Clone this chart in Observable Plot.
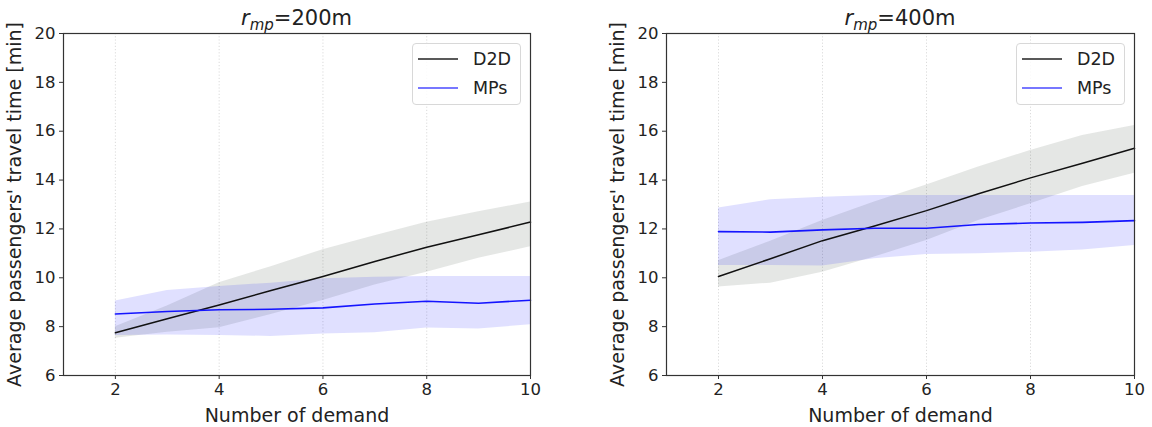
<!DOCTYPE html>
<html><head><meta charset="utf-8">
<script src="https://cdn.jsdelivr.net/npm/d3@7"></script>
<script src="https://cdn.jsdelivr.net/npm/@observablehq/plot@0.6"></script>
<style>
body{margin:0;background:#fff;font-family:"DejaVu Sans",sans-serif;}
#wrap{position:relative;width:1152px;height:427px;overflow:hidden;background:#fff;}
.panel{position:absolute;top:0;width:576px;height:427px;}
.title{position:absolute;top:5px;height:26px;width:300px;text-align:center;font-size:21px;line-height:26px;color:#222;white-space:nowrap;}
.title sub{font-size:15px;}
.legend{position:absolute;top:43px;width:109px;height:62px;border:1px solid #d8d8d8;border-radius:4px;background:rgba(255,255,255,0.85);font-size:17.5px;color:#222;box-sizing:border-box;}
.legend .row{position:absolute;left:4px;height:22px;}
.legend svg{position:absolute;left:0;top:0;}
.legend span{position:absolute;left:56px;top:0;line-height:22px;}
</style>
</head><body>
<div id="wrap"></div>
<script>
// ---- data ----
const demand = [2, 3, 4, 5, 6, 7, 8, 9, 10];
const xTicks = [2, 4, 6, 8, 10];
const yTicks = [6, 8, 10, 12, 14, 16, 18, 20];
const seriesNames = ["D2D", "MPs"];
const panelTitles = ["200m", "400m"];

// r_mp = 200m
const d2d200   = [7.75, 8.32, 8.89, 9.48, 10.05, 10.67, 11.25, 11.76, 12.28];
const d2d200Lo = [7.52, 7.77, 7.95, 8.50, 9.07, 9.70, 10.23, 10.80, 11.27];
const d2d200Hi = [8.00, 8.85, 9.80, 10.45, 11.15, 11.72, 12.27, 12.70, 13.10];
const mp200    = [8.52, 8.62, 8.69, 8.71, 8.77, 8.93, 9.04, 8.96, 9.08];
const mp200Lo  = [7.64, 7.66, 7.64, 7.60, 7.70, 7.75, 7.94, 7.90, 8.08];
const mp200Hi  = [9.05, 9.48, 9.64, 9.78, 9.96, 10.02, 10.05, 10.05, 10.05];

// r_mp = 400m
const d2d400   = [10.05, 10.78, 11.52, 12.12, 12.75, 13.44, 14.09, 14.69, 15.30];
const d2d400Lo = [9.62, 9.78, 10.23, 10.85, 11.53, 12.34, 13.03, 13.74, 14.28];
const d2d400Hi = [10.70, 11.50, 12.35, 13.10, 13.80, 14.53, 15.21, 15.82, 16.23];
const mp400    = [11.89, 11.87, 11.96, 12.03, 12.03, 12.18, 12.24, 12.27, 12.34];
const mp400Lo  = [10.50, 10.50, 10.48, 10.78, 10.95, 10.98, 11.05, 11.14, 11.32];
const mp400Hi  = [12.86, 13.19, 13.30, 13.37, 13.37, 13.37, 13.37, 13.37, 13.37];

const xLabel = "Number of demand";
const yLabel = "Average passengers' travel time [min]";

const panels = [
  {left: 0, ml: 63, mr: 46, title: panelTitles[0], d2d: d2d200, d2dLo: d2d200Lo, d2dHi: d2d200Hi, mp: mp200, mpLo: mp200Lo, mpHi: mp200Hi},
  {left: 576, ml: 90, mr: 18, title: panelTitles[1], d2d: d2d400, d2dLo: d2d400Lo, d2dHi: d2d400Hi, mp: mp400, mpLo: mp400Lo, mpHi: mp400Hi}
];

const W = 576, H = 397;
const wrap = document.getElementById("wrap");

for (const p of panels) {
  const rows = demand.map((d, i) => ({
    x: d, d2d: p.d2d[i], d2dLo: p.d2dLo[i], d2dHi: p.d2dHi[i],
    mp: p.mp[i], mpLo: p.mpLo[i], mpHi: p.mpHi[i]
  }));
  const div = document.createElement("div");
  div.className = "panel";
  div.style.left = p.left + "px";

  const plotW = W - p.ml - p.mr;
  const cx = p.ml + plotW / 2;
  const t = document.createElement("div");
  t.className = "title";
  t.style.left = (cx - 150) + "px";
  t.innerHTML = `<i>r</i><sub><i>mp</i></sub>=${p.title}`;
  div.appendChild(t);

  const chart = Plot.plot({
    width: W, height: H,
    marginTop: 3, marginBottom: 52, marginLeft: p.ml, marginRight: p.mr,
    style: {fontFamily: "DejaVu Sans", fontSize: "16.5px", color: "#222", overflow: "visible", background: "transparent"},
    x: {domain: [1, 10]},
    y: {domain: [6, 20]},
    marks: [
      Plot.gridX(xTicks, {stroke: "#999", strokeOpacity: 0.45, strokeDasharray: "1.2,2", strokeWidth: 0.8}),
      Plot.areaY(rows, {x: "x", y1: "d2dLo", y2: "d2dHi", fill: "#1a2a1a", fillOpacity: 0.115}),
      Plot.areaY(rows, {x: "x", y1: "mpLo", y2: "mpHi", fill: "#0000ff", fillOpacity: 0.12}),
      Plot.lineY(rows, {x: "x", y: "d2d", stroke: "#111", strokeWidth: 1.5}),
      Plot.lineY(rows, {x: "x", y: "mp", stroke: "#1414ff", strokeWidth: 1.6}),
      Plot.axisX(xTicks, {tickSize: 4, tickPadding: 4, fontSize: 16.5, stroke: "#333",
        label: xLabel, labelAnchor: "center", labelOffset: 46, labelArrow: "none"}),
      Plot.axisY(yTicks, {tickSize: 4, tickPadding: 4, fontSize: 16.5, stroke: "#333",
        label: yLabel, labelAnchor: "center", labelOffset: 56, labelArrow: "none"}),
      Plot.frame({stroke: "#333", strokeWidth: 1.2})
    ]
  });
  chart.style.position = "absolute";
  chart.style.top = "30px";
  chart.style.left = "0px";
  d3.select(chart).selectAll('g[aria-label="x-axis label"], g[aria-label="y-axis label"]').attr("font-size", 19);
  div.appendChild(chart);

  // legend
  const lg = document.createElement("div");
  lg.className = "legend";
  lg.style.left = (W - p.mr - 9 - 109) + "px";
  const colors = ["#222", "#4a4aff"];
  seriesNames.forEach((name, i) => {
    const r = document.createElement("div");
    r.className = "row";
    r.style.top = (4 + i * 29) + "px";
    r.style.width = "100px";
    r.innerHTML = `<svg width="50" height="22"><line x1="1" x2="41" y1="11" y2="11" stroke="${colors[i]}" stroke-width="1.6"/></svg><span>${name}</span>`;
    lg.appendChild(r);
  });
  div.appendChild(lg);
  wrap.appendChild(div);
}
</script>
</body></html>
